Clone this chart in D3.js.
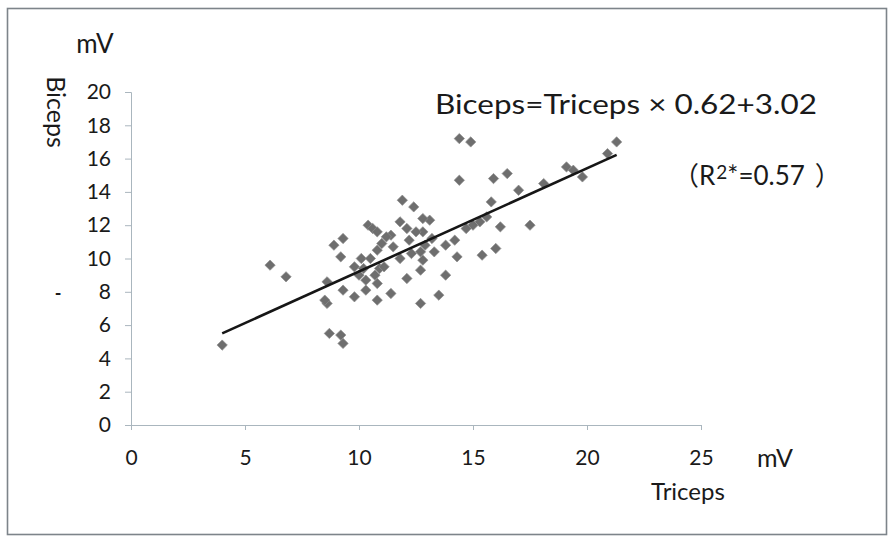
<!DOCTYPE html>
<html>
<head>
<meta charset="utf-8">
<script src="https://cdn.jsdelivr.net/npm/d3@7"></script>
<style>
  html, body { margin: 0; padding: 0; background: #fff; }
  svg { display: block; }
  text { font-family: Lato, "Noto Sans", "Noto Sans CJK JP", sans-serif; fill: #1a1a1a; }
</style>
</head>
<body>
<svg id="chart" width="895" height="540"></svg>
<script>
// ---- data ----
const tricepsX = [
  4.0, 6.1, 6.8, 8.6, 8.6, 8.5, 8.7, 9.2, 9.3, 8.9,
  9.3, 9.2, 9.3, 9.8, 9.8, 10.1, 10.0, 10.3, 10.3, 10.4,
  10.6, 10.8, 10.8, 10.9, 11.1, 11.0, 10.8, 10.5, 11.4, 11.4,
  11.8, 11.9, 12.4, 12.1, 12.7, 12.7, 13.1, 12.8, 13.5, 13.8,
  12.1, 12.2, 12.3, 12.7, 12.8, 10.8, 10.7, 14.4, 14.9, 14.4,
  15.9, 16.5, 18.1, 17.0, 15.8, 15.6, 15.3, 15.0, 14.7, 16.2,
  17.5, 13.2, 13.8, 14.2, 16.0, 15.4, 13.3, 14.3, 12.8, 21.3,
  20.9, 19.1, 19.4, 19.8, 11.5, 11.8, 12.5, 12.9, 11.2, 10.2
];
const bicepsY = [
  4.8, 9.6, 8.9, 8.6, 7.3, 7.5, 5.5, 5.4, 4.9, 10.8,
  11.2, 10.1, 8.1, 9.5, 7.7, 10.0, 9.0, 8.7, 8.1, 12.0,
  11.8, 11.6, 7.5, 9.4, 9.5, 10.9, 10.5, 10.0, 11.4, 7.9,
  12.2, 13.5, 13.1, 8.8, 9.3, 7.3, 12.3, 12.4, 7.8, 9.0,
  11.8, 11.1, 10.3, 10.4, 11.6, 8.5, 9.0, 17.2, 17.0, 14.7,
  14.8, 15.1, 14.5, 14.1, 13.4, 12.5, 12.2, 12.0, 11.8, 11.9,
  12.0, 11.2, 10.8, 11.1, 10.6, 10.2, 10.4, 10.1, 9.9, 17.0,
  16.3, 15.5, 15.3, 14.9, 10.7, 10.0, 11.6, 10.8, 11.3, 9.4
];
const slope = 0.62;
const intercept = 3.02;
const fitRange = [4.0, 21.3];
const xTicks = [0, 5, 10, 15, 20, 25];
const yTicks = [0, 2, 4, 6, 8, 10, 12, 14, 16, 18, 20];
const equationText = "Biceps=Triceps × 0.62+3.02";
const r2Label = { open: "（", pre: "R", sup: "2", post: "*=0.57", close: "）" };

// ---- layout ----
const svg = d3.select("#chart");
const x = d3.scaleLinear().domain([0, 25]).range([131, 701]);
const y = d3.scaleLinear().domain([0, 20]).range([425, 92]);
const axisColor = "#aab6be";

// border
svg.append("rect")
  .attr("x", 7.5).attr("y", 8.5).attr("width", 879).attr("height", 526)
  .attr("fill", "none").attr("stroke", "#7d848a").attr("stroke-width", 1.6);

// x axis
const gx = svg.append("g").attr("transform", `translate(0,${y(0)})`)
  .call(d3.axisBottom(x).tickValues(xTicks).tickSize(5).tickPadding(20).tickFormat(d3.format("d")));
gx.select(".domain").attr("stroke", axisColor);
gx.selectAll(".tick line").attr("stroke", axisColor);
gx.selectAll(".tick text").attr("font-size", 21).attr("fill", "#1a1a1a")
  .attr("font-family", "Lato, sans-serif");

// y axis
const gy = svg.append("g").attr("transform", `translate(${x(0)},0)`)
  .call(d3.axisLeft(y).tickValues(yTicks).tickSize(6).tickPadding(14).tickFormat(d3.format("d")));
gy.select(".domain").attr("stroke", axisColor);
gy.selectAll(".tick line").attr("stroke", axisColor);
gy.selectAll(".tick text").attr("font-size", 21).attr("fill", "#1a1a1a")
  .attr("font-family", "Lato, sans-serif");

// points (diamonds)
const pts = tricepsX.map((v, i) => ({ x: v, y: bicepsY[i] }));
const diamond = d3.symbol().type(d3.symbolDiamond2).size(68);
svg.append("g").selectAll("path").data(pts).join("path")
  .attr("d", diamond)
  .attr("transform", d => `translate(${x(d.x)},${y(d.y)})`)
  .attr("fill", "#6e6e6e")
  .attr("stroke", "#8c8c8c").attr("stroke-width", 0.7);

// regression line
const line = d3.line().x(d => x(d)).y(d => y(slope * d + intercept));
svg.append("path").datum(fitRange)
  .attr("d", line).attr("fill", "none")
  .attr("stroke", "#161616").attr("stroke-width", 2.6);

// axis titles
svg.append("text").attr("x", 95).attr("y", 53).attr("text-anchor", "middle")
  .attr("font-size", 26).text("mV");
svg.append("text").attr("transform", "translate(56,112) rotate(90)")
  .attr("text-anchor", "middle").attr("dy", "0.35em")
  .attr("font-size", 25).text("Biceps");
svg.append("text").attr("x", 58).attr("y", 300).attr("text-anchor", "middle")
  .attr("font-size", 18).attr("font-weight", "bold").text("-");
svg.append("text").attr("x", 775).attr("y", 467).attr("text-anchor", "middle")
  .attr("font-size", 25).text("mV");
svg.append("text").attr("x", 688).attr("y", 500).attr("text-anchor", "middle")
  .attr("font-size", 24).text("Triceps");

// equation
svg.append("text").attr("x", 435).attr("y", 114)
  .attr("font-size", 27).attr("textLength", 382).attr("lengthAdjust", "spacingAndGlyphs")
  .text(equationText);

const r2 = svg.append("text").attr("x", 673).attr("y", 185).attr("font-size", 26);
r2.append("tspan").attr("font-family", "'Noto Sans CJK JP', sans-serif").text(r2Label.open);
r2.append("tspan").text(r2Label.pre);
r2.append("tspan").attr("font-size", 19).attr("dy", -6).attr("dx", 1).text(r2Label.sup);
r2.append("tspan").attr("dy", 6).text(r2Label.post);
r2.append("tspan").attr("dx", 10).attr("font-family", "'Noto Sans CJK JP', sans-serif").text(r2Label.close);
</script>
</body>
</html>
